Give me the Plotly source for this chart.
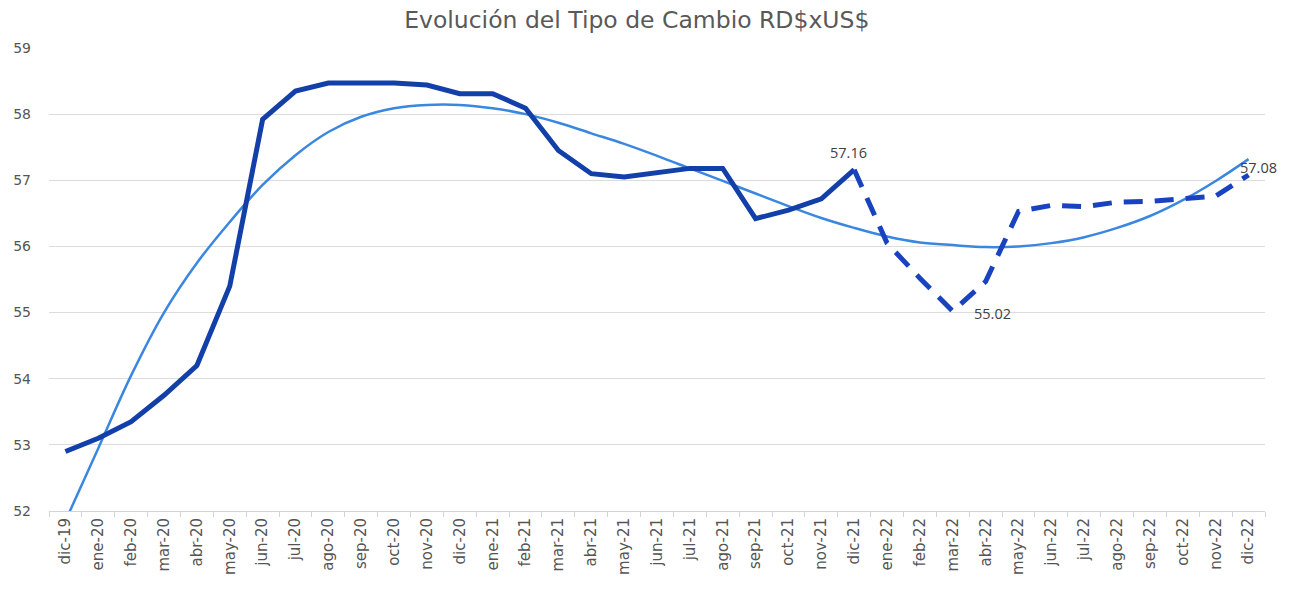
import plotly.graph_objects as go

months = ["dic-19","ene-20","feb-20","mar-20","abr-20","may-20","jun-20","jul-20","ago-20","sep-20",
          "oct-20","nov-20","dic-20","ene-21","feb-21","mar-21","abr-21","may-21","jun-21","jul-21",
          "ago-21","sep-21","oct-21","nov-21","dic-21","ene-22","feb-22","mar-22","abr-22","may-22",
          "jun-22","jul-22","ago-22","sep-22","oct-22","nov-22","dic-22"]

actual = [52.90, 53.10, 53.35, 53.75, 54.20, 55.40, 57.92, 58.35, 58.47, 58.47,
          58.47, 58.44, 58.31, 58.31, 58.09, 57.45, 57.10, 57.05, 57.11, 57.18,
          57.18, 56.42, 56.55, 56.72, 57.16]

projected = [57.16, 56.05, 55.52, 55.02, 55.47, 56.53, 56.62, 56.60, 56.67, 56.68, 56.72, 56.76, 57.08]

trend = [51.85, 52.95, 54.05, 55.00, 55.75, 56.37, 56.93, 57.38, 57.73, 57.96,
         58.09, 58.14, 58.14, 58.09, 58.00, 57.87, 57.71, 57.55, 57.37, 57.18,
         56.99, 56.80, 56.61, 56.43, 56.28, 56.15, 56.06, 56.02, 55.99, 56.00,
         56.05, 56.14, 56.28, 56.46, 56.70, 56.99, 57.32]

y_ticks = [52, 53, 54, 55, 56, 57, 58, 59]

actual_x = months[:len(actual)]
proj_x = months[len(actual) - 1:]

FONT = "DejaVu Sans"
LABEL_FONT = dict(family="Open Sans", size=14.5, color="#404040")

fig = go.Figure()

fig.add_trace(go.Scatter(
    x=months, y=trend, mode="lines", line=dict(color="#3a87e0", width=2.5, shape="spline"),
    hoverinfo="skip", showlegend=False))

fig.add_trace(go.Scatter(
    x=actual_x, y=actual, mode="lines", line=dict(color="#1240a8", width=5),
    showlegend=False))

fig.add_trace(go.Scatter(
    x=proj_x, y=projected, mode="lines", line=dict(color="#1842c0", width=5, dash="19px,12px"),
    showlegend=False))

# data labels
i_mar = proj_x.index("mar-22")
labels = [
    (actual_x[-1], actual[-1], -6, 17),
    (proj_x[i_mar], projected[i_mar], 40, -2),
    (proj_x[-1], projected[-1], 10, 7),
]
for lx, ly, dx, dy in labels:
    fig.add_annotation(x=lx, y=ly, text=f"{ly:.2f}", showarrow=False,
                       xshift=dx, yshift=dy, font=LABEL_FONT,
                       xanchor="center", yanchor="middle")

fig.update_layout(
    width=1289, height=590,
    margin=dict(l=49, r=24, t=48, b=79),
    paper_bgcolor="white", plot_bgcolor="white",
    title=dict(text="Evolución del Tipo de Cambio RD$xUS$", x=0.494, xanchor="center",
               y=0.966, yanchor="middle",
               font=dict(family=FONT, size=23.5, color="#595959")),
    font=dict(family=FONT, color="#555555"),
)

fig.update_xaxes(
    type="category", categoryorder="array", categoryarray=months,
    range=[-0.5, len(months) - 0.5],
    tickangle=-90, tickfont=dict(family=FONT, size=15, color="#555555"),
    showgrid=False, showline=True, linecolor="#d4d4d4", linewidth=1,
    ticks="outside", tickson="boundaries", ticklen=5, tickcolor="#d4d4d4",
    zeroline=False,
)

fig.update_yaxes(
    range=[52, 59], tickvals=y_ticks, ticktext=[str(v) for v in y_ticks],
    tickfont=dict(family=FONT, size=14, color="#555555"),
    showgrid=True, gridcolor="#dcdcdc", gridwidth=1,
    showline=False, zeroline=False, ticks="", ticklabelstandoff=17,
)

fig.write_html("out.html", post_script="document.body.style.margin='0';",
               config={"displayModeBar": False})
